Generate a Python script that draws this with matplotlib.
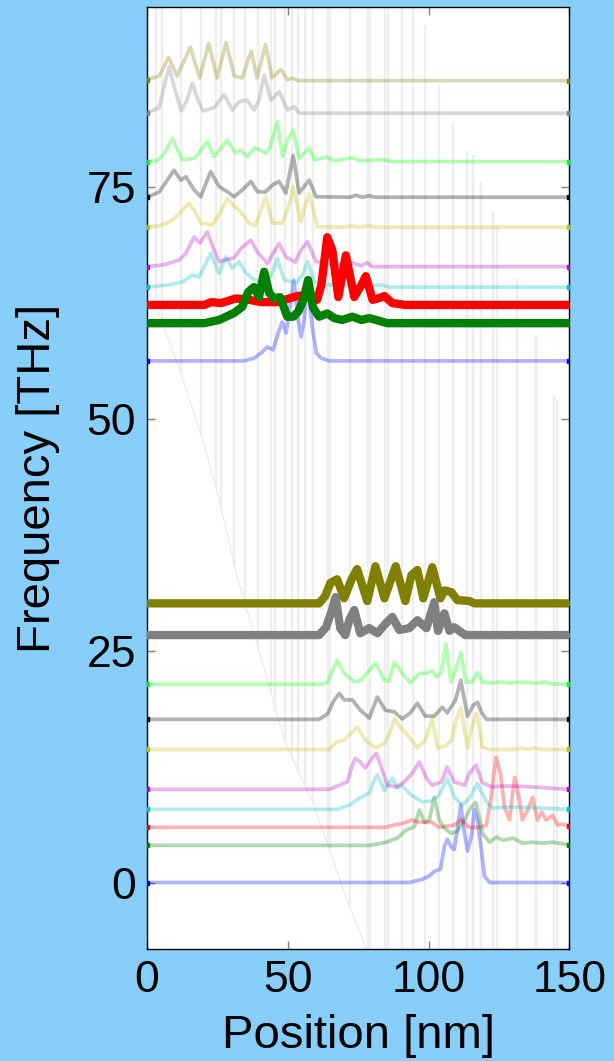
import numpy as np
import matplotlib
matplotlib.use("Agg")
import matplotlib.pyplot as plt

plt.rcParams["font.family"] = ["Liberation Sans", "DejaVu Sans"]

# ----------------------------
# Background: layer interfaces and band edge
# ----------------------------

iface_x = [3.2, 5.3, 12.1, 19.2, 24.5, 26.3, 30.9, 34.8, 39.4, 44.0, 45.4, 49.0,
           51.5, 53.6, 56.1, 58.9, 64.3, 65.0, 72.1, 78.5, 79.2, 84.5, 85.6, 90.5,
           94.4, 98.7, 103.6, 108.6, 113.6, 115.7, 118.6, 122.8, 124.3, 131.4,
           138.1, 144.5, 145.6]
iface_lo = [62.0, 60.4, 54.9, 48.3, 42.5, 40.4, 34.4, 29.9, 25.4, 20.3, 18.6, 15.1,
            13.3, 12.0, 10.4, 8.6, 4.2, 3.6, -2.5, -10, -10, -10, -10, -10,
            -10, -10, -10, -10, -10, -10, -10, -10, -10, -10,
            -10, -10, -10]
iface_hi = [100, 100, 100, 100, 100, 100, 100, 100, 100, 100, 100, 100,
            100, 100, 100, 100, 100, 100, 100, 100, 100, 100, 100, 100,
            100, 92.5, 86.0, 82.0, 79.0, 78.5, 75.7, 72.4, 70.9, 65.2,
            58.9, 52.5, 52.0]

edge_x = [0, 1.1, 3.6, 12.1, 19.2, 25.2, 32.3, 39.4, 49.0, 58.9, 70.7, 77.8, 80]
edge_f = [64.5, 63.1, 61.8, 54.9, 48.3, 41.8, 32.6, 25.4, 15.1, 8.6, -1.6, -7.1, -9]

# ----------------------------
# Mode profiles: x [nm], height above eigenfrequency [THz]
# ----------------------------

# upper branch
hb_x = [0, 34.5, 38, 40.5, 42.7, 44.8, 46.9, 48, 49.4, 52.1, 53.7, 54.7, 55.8, 56.9,
        58.7, 60.1, 61.9, 64.7, 150]
hb_h = [0, 0, 0.3, 0.85, 1.5, 1.2, 3.3, 4.2, 3.0, 8.7, 4.4, 2.6, 4.4, 8.5,
        3.65, 0.85, 0.3, 0, 0]

hg_x = [0, 20.3, 25.6, 30.9, 33.8, 35.9, 38, 39.8, 41.6, 43.4, 45.1, 47.3, 49.8, 51.9,
        53.7, 55.5, 57.2, 59, 61.1, 64, 66.5, 69.3, 72.9, 76.1, 78.9, 82.5, 85.3, 150]
hg_h = [0, 0, 0.35, 1.1, 1.75, 3.35, 3.9, 2.85, 5.55, 3.25, 2.7, 2.8, 0.7, 0.7,
        1.25, 2.5, 4.65, 1.65, 0.7, 1.05, 0.55, 0.35, 0.7, 0.35, 0.55, 0.25, 0, 0]

hr_x = [0, 20.3, 22.8, 26.3, 31.6, 36.3, 40.5, 46.2, 50.5, 54, 57.6, 60.4, 61.9, 64,
        65.8, 67.9, 70.6, 73.6, 76.1, 77.7, 80.1, 82.5, 84.3, 87.1, 89.6, 91.4, 150]
hr_h = [0, 0, 0.3, 0.2, 0.7, 0.55, 0.3, 0.3, 0.7, 1.0, 0.85, 0.55, 2.15, 7.3,
        5.9, 0.85, 5.35, 0.85, 2.15, 3.1, 0.55, 0.75, 0.95, 0.2, 0.1, 0, 0]

hc_x = [0, 7.8, 12.4, 16.1, 18.5, 22.6, 25.6, 28, 30.2, 32.7, 34.8, 37.4, 40.9, 44.1,
        46.3, 48.7, 53, 55.1, 57, 59.4, 64.7, 68, 71.8, 78, 83.5, 86, 150]
hc_h = [0, 0.25, 0.55, 1.3, 1.1, 3.65, 1.5, 3.3, 2.05, 2.75, 1.65, 0.95, 0.45, 1.3,
        3.1, 0.8, 0.45, 1.3, 2.75, 0.6, 0.25, 0.2, 0.15, 0.1, 0.25, 0, 0]

hm_x = [0, 6, 11.4, 13.8, 16.7, 18.8, 21.4, 23.8, 25.6, 30.9, 33.8, 36.9, 39.1, 42.8,
        45.1, 46.9, 49.3, 52.6, 54.7, 57, 60, 64.7, 68, 72.9, 76, 78.2, 80, 150]
hm_h = [0, 0.2, 0.7, 1.45, 3.2, 2.55, 3.75, 1.8, 0.55, 0.95, 2.1, 2.85, 1.6, 0.35,
        1.6, 2.5, 1.05, 0.5, 1.8, 2.7, 0.55, 0.3, 0.2, 0.4, 0.1, 0.4, 0, 0]

hy_x = [0, 4.3, 7.8, 11.4, 14.9, 17.1, 19.1, 23.1, 25.6, 28.5, 30.9, 32.7, 36.3, 38.4,
        40.5, 42.2, 44.5, 48, 50.5, 51.9, 54.6, 56.2, 57.6, 60.5, 70, 72.9, 75, 78.9,
        81, 150]
hy_h = [0, 0.15, 0.55, 1.4, 2.6, 1.65, 0.45, 0.25, 1.3, 3.1, 2.3, 1.85, 0.45, 0.15,
        1.85, 3.3, 0.45, 0.45, 2.4, 4.35, 0.6, 2.4, 3.6, 0.05, 0, 0.15, 0, 0.15,
        0, 0]

hk_x = [0, 4.3, 9.6, 12, 13.8, 16.7, 19.1, 22.6, 25.6, 28.5, 30.9, 33.9, 36.9, 39.2,
        42, 44.5, 46.9, 49.3, 51.9, 54, 57.6, 60, 72, 74.2, 76.5, 78.9, 81, 150]
hk_h = [0, 0.55, 2.9, 1.85, 2.2, 0.8, 0.05, 2.75, 1.15, 0.6, 0.05, 0.8, 1.7, 0.6,
        0.55, 1.3, 1.7, 0.45, 4.5, 0.45, 1.85, 0.05, 0, 0.2, 0, 0.15, 0, 0]

hl_x = [0, 3.6, 6, 9, 12.5, 17.1, 21.4, 23.8, 28.5, 31.5, 33.1, 35.7, 38, 40.2, 42.2,
        43.7, 46.3, 48.1, 49.8, 51.9, 54, 57.6, 59.4, 64, 66.5, 72.9, 75.4, 84.3,
        86.7, 150]
hl_h = [0, 0.1, 0.8, 2.5, 0.2, 0.4, 2.15, 0.55, 2.3, 0.9, 1.25, 0.55, 1.45, 1.25, 0.9,
        1.5, 4.3, 0.55, 2.3, 3.4, 0.35, 1.45, 0.2, 0.5, 0.1, 0.4, 0.1, 0.2,
        0, 0]

ha_x = [0, 4.3, 7.8, 10, 12.1, 14.2, 16.1, 18.1, 19.9, 23.8, 27.4, 30.3, 32.7, 35.5,
        38, 39.8, 41.6, 44, 46.9, 49.9, 52.3, 54, 150]
ha_h = [0, 0.6, 5.0, 2.5, 0.25, 1.4, 3.25, 1.4, 0.25, 0.6, 2.0, 0.35, 1.25, 1.4,
        0.35, 1.4, 4.1, 1.4, 2.3, 0.35, 0.7, 0, 0]

ho_x = [0, 4.3, 7.7, 10.7, 15.4, 18.7, 21.9, 24.9, 28.1, 31.0, 33.8, 37.0, 39.1, 42.1,
        44.4, 47.5, 49.9, 51.5, 54, 150]
ho_h = [0.1, 0.5, 2.5, 0.5, 3.6, 0.3, 4.0, 0.3, 4.1, 0.5, 0.3, 3.2, 0.3, 3.9,
        0.3, 1.2, 0.1, 0.25, 0, 0]

# lower branch
lb_x = [0, 93.1, 97.8, 100.2, 102, 104.2, 105.6, 106.6, 108.1, 109.1, 110.2, 111.4,
        112.7, 113.8, 115.2, 116.2, 117.3, 118.7, 119.8, 121.6, 150]
lb_h = [0, 0, 0.35, 0.7, 1.2, 1.45, 3.9, 4.65, 3.8, 3.55, 5.7, 8.4,
        5.4, 3.4, 5.0, 7.9, 6.8, 3.6, 0.7, 0, 0]

lg_x = [0, 78.9, 85, 88.9, 92, 94.9, 96.7, 98.5, 100.2, 102, 103.8, 105.6, 108.1,
        110.2, 112.7, 114.8, 116.8, 119.1, 121.6, 124.1, 126.6, 129.8, 133.3, 136.9,
        140.4, 144, 150]
lg_h = [0, 0, 0.35, 0.8, 1.65, 2.0, 3.8, 2.5, 2.7, 5.2, 2.7, 1.85, 1.3,
        1.55, 2.7, 4.0, 4.65, 1.3, 0.35, 0.9, 0.55, 0.8, 0.25, 0.35,
        0.25, 0.35, 0.05]

lr_x = [0, 84.3, 87.8, 90.9, 93.9, 96.7, 101, 103.8, 109.1, 111.5, 114.5, 118, 120.5,
        122.3, 123.9, 125.5, 126.9, 128.7, 130.5, 131.9, 133.3, 135.1, 136.9, 138.6,
        140.1, 141.7, 144, 145.8, 147.5, 150]
lr_h = [0, 0, 0.25, 0.45, 0.8, 0.55, 0.55, 0, 0.25, 0.8, 0, 0, 0.25,
        3.5, 7.55, 5.85, 2.2, 0.8, 5.4, 3.5, 0.8, 1.85, 3.25, 0.8,
        1.65, 0.8, 1.3, 0.25, 0.35, 0.15]

lc_x = [0, 67.5, 71.8, 75.4, 78.9, 80.7, 81.8, 84.3, 87.1, 88.9, 90.6, 93.1, 95.6,
        97.8, 101, 103.8, 106.6, 109.1, 112, 114.5, 117.3, 120.5, 122.6, 128.7,
        139.4, 150]
lc_h = [0, 0, 0.45, 1.2, 1.75, 3.15, 3.7, 2.05, 3.35, 2.3, 2.6, 1.75, 1.2,
        0.8, 0.9, 1.55, 3.35, 1.35, 0.45, 1.2, 2.8, 0.8, 0.15, 0.25,
        0.15, 0]

lm_x = [0, 64.7, 68.3, 71.1, 72.9, 73.9, 75.7, 77.5, 80.1, 81.4, 83.2, 85.3, 88.5,
        91.4, 94.2, 96.7, 99.2, 101.3, 104.5, 106.6, 109.1, 112.7, 114.5, 116.8,
        119.1, 122.6, 126.2, 130.5, 137.6, 142.2, 150]
lm_h = [0, 0, 0.45, 0.8, 2.6, 3.35, 2.95, 2.3, 3.45, 3.9, 2.4, 0.45, 0.25,
        0.8, 1.75, 2.95, 1.2, 0.45, 0.8, 2.4, 0.8, 0.45, 1.75, 2.6,
        0.7, 0.25, 0.35, 0.35, 0.25, 0.15, 0]

ly_x = [0, 64.7, 67.2, 70, 72.5, 74.6, 77.5, 81.1, 84.6, 86, 87.8, 89.9, 91.7, 93.9,
        96, 98.8, 101.3, 103.1, 105.9, 108.1, 109.8, 111.4, 113.8, 115.5, 117, 119.1,
        121.6, 131, 133.3, 135.5, 137.6, 139.5, 150]
ly_h = [0, 0, 0.8, 1.0, 1.75, 2.4, 1.0, 0.15, 0.7, 1.55, 3.35, 2.4, 1.85, 1.0,
        0.15, 1.0, 3.35, 0.15, 0.35, 1.0, 3.15, 4.45, 0.15, 2.6, 3.9, 0.25,
        0, 0, 0.15, 0, 0.15, 0, 0]

lk_x = [0, 61.1, 64, 66.5, 68.3, 70, 72.9, 75.7, 78.9, 81.8, 84.6, 87.8, 90.6, 93.5,
        96, 98.8, 102, 104.9, 106.6, 109.5, 111.4, 113.8, 115.9, 117.3, 118.7, 120.5,
        150]
lk_h = [0, 0, 0.55, 2.1, 2.8, 2.1, 2.1, 1.0, 0.15, 2.4, 1.0, 0.8, 0.05, 0.7,
        1.75, 0.35, 0.35, 1.3, 0.7, 2.05, 4.2, 0.35, 1.55, 1.85, 0.8, 0,
        0]

ll_x = [0, 61.1, 64, 65.8, 67.5, 70, 73.6, 76.1, 78.9, 81.1, 84.3, 86, 87.8, 90.6,
        93.5, 96.7, 99.2, 101.3, 102.7, 104.5, 106.1, 107.9, 109.8, 111.4, 113.2,
        115.5, 117.3, 119.1, 122.6, 125.1, 128.7, 133.3, 137.6, 141.1, 144, 150]
ll_h = [0, 0, 0.15, 1.5, 2.6, 1.2, 0.25, 0.45, 1.5, 2.3, 0.45, 0.35, 2.4, 1.2,
        0.15, 1.2, 1.2, 1.5, 0.8, 1.3, 4.4, 0.25, 1.75, 3.45, 0.25,
        0.25, 1.3, 0.25, 0.15, 0.25, 0.15, 0.25, 0.15, 0.25, 0.05, 0]

la_x = [0, 61.1, 63.6, 65.4, 67, 68.6, 70.4, 71.8, 73.6, 75.7, 78.9, 81.8, 84.6, 87.1,
        89.6, 93.1, 96, 99.2, 102, 103.3, 105.6, 107.4, 109.1, 110.9, 113, 150]
la_h = [0, 0, 0.85, 2.45, 4.1, 0.75, 0, 1.6, 2.7, 0.2, 0.75, 0.2, 1.2, 1.95,
        0.55, 0.75, 1.6, 0.75, 3.55, 0.45, 2.35, 0.45, 0.85, 0.45, 0, 0]

lo_x = [0, 61.1, 63.3, 65.1, 67.5, 70, 72.5, 74.6, 78.2, 81.1, 84.3, 88.3, 91.7, 93.9,
        96, 98.1, 101.3, 104.2, 105.6, 108.1, 110.2, 114.5, 116.2, 150]
lo_h = [0, 0, 0.8, 2.2, 2.6, 0.55, 2.5, 3.7, 0.25, 4.0, 0.55, 4.0, 0.25, 3.05,
        3.6, 0.55, 3.9, 0.55, 1.4, 1.2, 0.35, 0.25, 0, 0]

# eigenfrequencies [THz]
freq_hi = [56.26, 60.33, 62.30, 64.21, 66.43, 70.68, 73.92, 77.76, 82.98, 86.49]
freq_lo = [0.0, 4.00, 5.95, 7.89, 10.05, 14.36, 17.60, 21.37, 26.69, 30.11]

mode_colors = ["b", "g", "r", "c", "m", "y", "k", "lime", "gray", "olive"]
highlight_hi = [False, True, True, False, False, False, False, False, False, False]
highlight_lo = [False, False, False, False, False, False, False, False, True, True]

profiles_hi = [(hb_x, hb_h), (hg_x, hg_h), (hr_x, hr_h), (hc_x, hc_h), (hm_x, hm_h),
               (hy_x, hy_h), (hk_x, hk_h), (hl_x, hl_h), (ha_x, ha_h), (ho_x, ho_h)]
profiles_lo = [(lb_x, lb_h), (lg_x, lg_h), (lr_x, lr_h), (lc_x, lc_h), (lm_x, lm_h),
               (ly_x, ly_h), (lk_x, lk_h), (ll_x, ll_h), (la_x, la_h), (lo_x, lo_h)]

# ----------------------------
# Plot
# ----------------------------

fig = plt.figure(figsize=(6.14, 10.61), dpi=100, facecolor="#87cefa")
ax = fig.add_axes([0.2394, 0.1053, 0.6881, 0.8878])
ax.set_facecolor("white")

ax.vlines(iface_x, iface_lo, iface_hi, colors="#eeeeee", linewidth=1.7, zorder=1)
ax.plot(edge_x, edge_f, color="#ececec", linewidth=0.9, zorder=1)


def draw_mode(x, h, f, color, thick):
    y = f + np.asarray(h)
    if thick:
        ax.plot(x, y, color=color, linewidth=6.0, solid_joinstyle="round",
                solid_capstyle="butt", zorder=4)
    else:
        ax.plot(x, y, color=color, alpha=0.3, linewidth=2.7,
                solid_joinstyle="round", zorder=2)
    ax.plot([x[0], x[-1]], [y[0], y[-1]], linestyle="none", marker="s",
            markersize=3.2, color=color, zorder=3)


for group, freqs, flags in [(profiles_hi, freq_hi, highlight_hi),
                            (profiles_lo, freq_lo, highlight_lo)]:
    items = list(zip(group, freqs, mode_colors, flags))
    for (px, ph), f, c, t in items:
        if not t:
            draw_mode(px, ph, f, c, t)
    # highlighted modes: the lower one ends up on top
    for (px, ph), f, c, t in items[::-1]:
        if t:
            draw_mode(px, ph, f, c, t)

ax.set_xlim(0, 150)
ax.set_ylim(-7.2, 94.4)
ax.set_xticks([0, 50, 100, 150])
ax.set_yticks([0, 25, 50, 75])

ax.tick_params(direction="in", top=True, right=True, length=6, width=1,
               color="gray", labelsize=32, pad=8)
for s in ax.spines.values():
    s.set_color("black")
    s.set_linewidth(1.0)

ax.set_xlabel("Position [nm]", fontsize=34, labelpad=9)
ax.set_ylabel("Frequency [THz]", fontsize=34, labelpad=19)

plt.savefig("out.png", dpi=100, facecolor=fig.get_facecolor())
plt.close("all")
